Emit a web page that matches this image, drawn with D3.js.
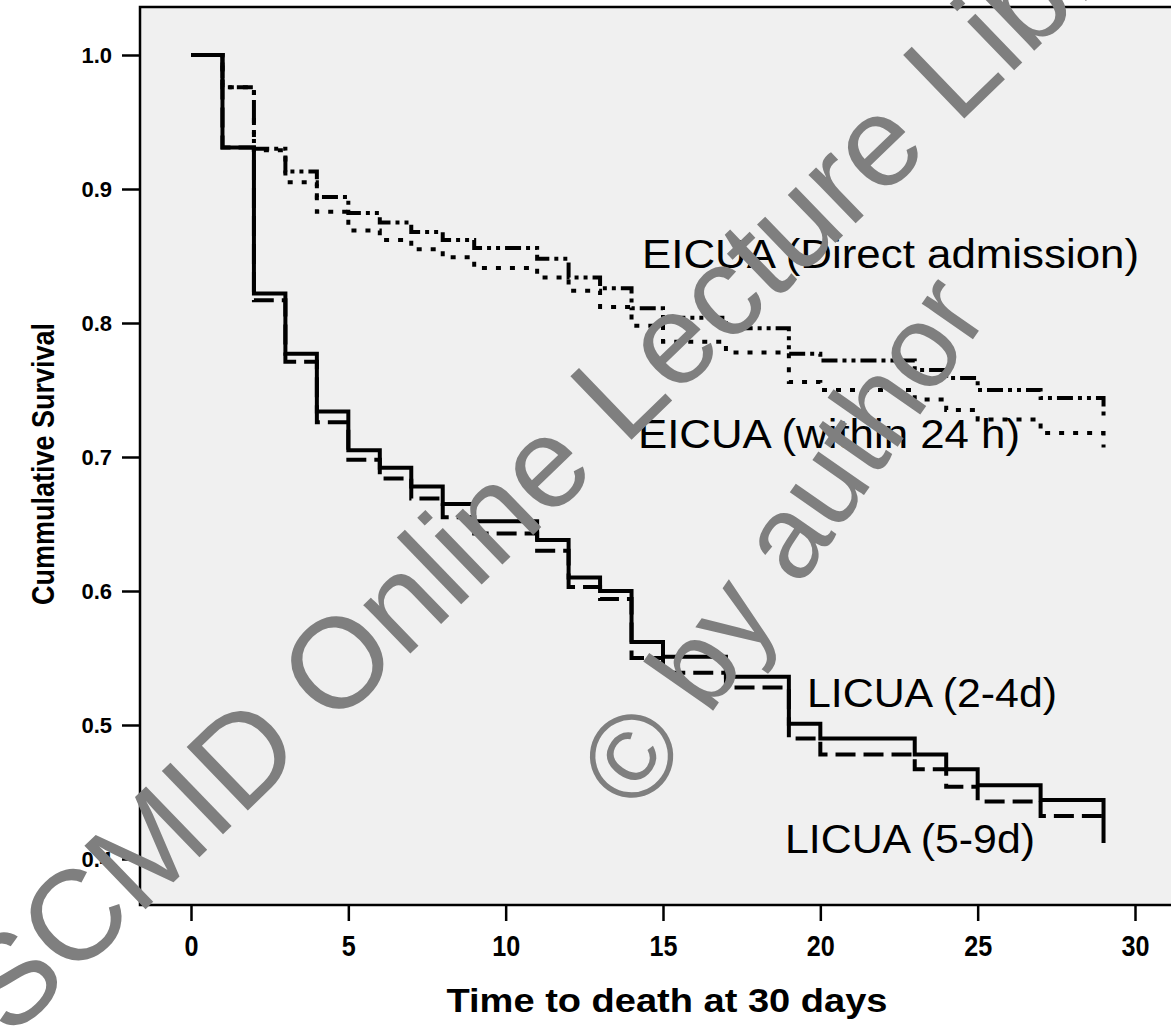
<!DOCTYPE html>
<html>
<head>
<meta charset="utf-8">
<script src="https://cdn.jsdelivr.net/npm/d3@7"></script>
<style>
  body { margin: 0; background: #fff; }
  svg { display: block; }
</style>
</head>
<body>
<script>
// Tick values
const xTicks = [0, 5, 10, 15, 20, 25, 30];
const yTicks = [0.4, 0.5, 0.6, 0.7, 0.8, 0.9, 1.0];

// Kaplan-Meier steps (time in days, cumulative survival)
const licua24Time = [0, 1, 2, 3, 4, 5, 6, 7, 8, 9, 11, 12, 13, 14, 15, 17, 19, 20, 23, 24, 25, 27, 29];
const licua24Surv = [1.0, 0.931, 0.822, 0.777, 0.734, 0.705, 0.692, 0.678, 0.665, 0.652, 0.638, 0.61, 0.6, 0.562, 0.551, 0.536, 0.501, 0.49, 0.478, 0.467, 0.455, 0.444, 0.412];

const licua59Time = [0, 1, 2, 3, 4, 5, 6, 7, 8, 9, 11, 12, 13, 14, 15, 17, 19, 20, 23, 24, 25, 27, 29];
const licua59Surv = [1.0, 0.931, 0.817, 0.771, 0.726, 0.698, 0.684, 0.669, 0.655, 0.643, 0.63, 0.603, 0.594, 0.55, 0.539, 0.528, 0.49, 0.478, 0.467, 0.454, 0.443, 0.432, 0.432];

const eicuaDirectTime = [0, 1, 2, 3, 4, 5, 6, 7, 8, 9, 11, 12, 13, 14, 15, 17, 19, 20, 23, 24, 25, 27, 29];
const eicuaDirectSurv = [1.0, 0.976, 0.93, 0.913, 0.894, 0.882, 0.875, 0.868, 0.862, 0.856, 0.848, 0.834, 0.826, 0.811, 0.804, 0.796, 0.777, 0.772, 0.765, 0.759, 0.75, 0.744, 0.73];

const eicua24Time = [0, 1, 2, 3, 4, 5, 6, 7, 8, 9, 11, 12, 13, 14, 15, 17, 19, 20, 23, 24, 25, 27, 29];
const eicua24Surv = [1.0, 0.976, 0.929, 0.905, 0.883, 0.869, 0.862, 0.855, 0.849, 0.841, 0.834, 0.824, 0.812, 0.798, 0.786, 0.778, 0.756, 0.75, 0.743, 0.735, 0.728, 0.718, 0.707];

const seriesNames = ["EICUA (Direct admission)", "EICUA (within 24 h)", "LICUA (2-4d)", "LICUA (5-9d)"];

const W = 1171, H = 1029;
const frame = {left: 140, top: 7, bottom: 905, right: 1185};

const svg = d3.select("body").append("svg")
    .attr("width", W)
    .attr("height", H)
    .style("font-family", "'Liberation Sans', Arial, sans-serif");

// Scales
const x = d3.scaleLinear().domain([0, 30]).range([191, 1135]);
const y = d3.scaleLinear().domain([0.4, 1.0]).range([859, 55]);

// Plot area background
svg.append("rect")
    .attr("x", frame.left).attr("y", frame.top)
    .attr("width", frame.right - frame.left)
    .attr("height", frame.bottom - frame.top)
    .attr("fill", "#f0f0f0")
    .attr("stroke", "#000")
    .attr("stroke-width", 2.5);

// Y axis
const yAxis = svg.append("g")
    .attr("transform", "translate(" + frame.left + ",0)")
    .call(d3.axisLeft(y).tickValues(yTicks).tickSize(18).tickPadding(10).tickFormat(d3.format(".1f")));
yAxis.select(".domain").remove();
yAxis.selectAll("line").attr("stroke", "#000").attr("stroke-width", 2.5);
yAxis.selectAll("text")
    .attr("fill", "#000")
    .style("font-size", "22px")
    .style("font-weight", "bold")
    .style("font-family", "'Liberation Sans', Arial, sans-serif");

// X axis
const xAxis = svg.append("g")
    .attr("transform", "translate(0," + frame.bottom + ")")
    .call(d3.axisBottom(x).tickValues(xTicks).tickSize(16).tickPadding(14));
xAxis.select(".domain").remove();
xAxis.selectAll("line").attr("stroke", "#000").attr("stroke-width", 2.5);
xAxis.selectAll("text")
    .attr("fill", "#000")
    .style("font-size", "30px")
    .style("font-weight", "bold")
    .style("font-family", "'Liberation Sans', Arial, sans-serif")
    .attr("textLength", d => d < 10 ? 14 : 28)
    .attr("lengthAdjust", "spacingAndGlyphs");

// Axis titles
svg.append("text")
    .attr("x", 667).attr("y", 1012)
    .attr("text-anchor", "middle")
    .attr("textLength", 441)
    .attr("lengthAdjust", "spacingAndGlyphs")
    .style("font-size", "34px")
    .style("font-weight", "bold")
    .text("Time to death at 30 days");

svg.append("text")
    .attr("transform", "translate(54,464) rotate(-90)")
    .attr("text-anchor", "middle")
    .attr("textLength", 282)
    .attr("lengthAdjust", "spacingAndGlyphs")
    .style("font-size", "32px")
    .style("font-weight", "bold")
    .text("Cummulative Survival");

// Step curves
const line = d3.line()
    .x(d => x(d[0]))
    .y(d => y(d[1]))
    .curve(d3.curveStepAfter);

const curves = [
  {time: eicuaDirectTime, surv: eicuaDirectSurv, dash: "16,5,4,5,4,5"},
  {time: eicua24Time, surv: eicua24Surv, dash: "5,9"},
  {time: licua59Time, surv: licua59Surv, dash: "20,8"},
  {time: licua24Time, surv: licua24Surv, dash: null}
];

svg.selectAll("path.km")
    .data(curves)
    .enter()
    .append("path")
      .attr("class", "km")
      .attr("d", d => line(d.time.map((t, i) => [t, d.surv[i]])))
      .attr("fill", "none")
      .attr("stroke", "#000")
      .attr("stroke-width", 4)
      .attr("stroke-dasharray", d => d.dash);

// Curve labels
const labels = [
  {text: seriesNames[0], x: 642, y: 268, len: 497},
  {text: seriesNames[1], x: 638, y: 448, len: 382},
  {text: seriesNames[2], x: 807, y: 707, len: 250},
  {text: seriesNames[3], x: 785, y: 853, len: 250}
];
svg.selectAll("text.lab")
    .data(labels)
    .enter()
    .append("text")
      .attr("class", "lab")
      .attr("x", d => d.x)
      .attr("y", d => d.y)
      .attr("textLength", d => d.len)
      .attr("lengthAdjust", "spacingAndGlyphs")
      .style("font-size", "40px")
      .text(d => d.text);

// Watermark over the chart
const wm = svg.append("g")
    .attr("fill", "#7f7f7f");
wm.append("text")
    .attr("transform", "translate(10,1040) rotate(-44)")
    .style("font-size", "128px")
    .text("SCMID Online Lecture Library");
wm.append("text")
    .attr("transform", "translate(640,815) rotate(-55)")
    .style("font-size", "118px")
    .text("© by author");
</script>
</body>
</html>
